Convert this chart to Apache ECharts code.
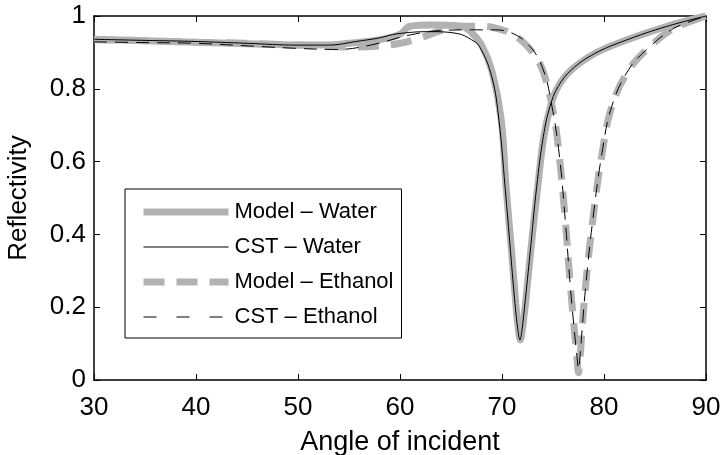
<!DOCTYPE html>
<html>
<head>
<meta charset="utf-8">
<script src="https://cdn.jsdelivr.net/npm/echarts@6/dist/echarts.min.js"></script>
<style>
html, body { margin: 0; padding: 0; background: #fff; }
#chart { width: 724px; height: 455px; }
</style>
</head>
<body>
<div id="chart"></div>
<script>
// angle of incidence (deg) and reflectivity
const modelWaterX = [30, 35, 40, 45, 50, 53, 55, 58, 60, 61, 63, 66, 67, 68, 69, 69.9, 70.4, 70.95, 71.35, 71.6, 71.8, 72.0, 72.3, 72.8, 73.5, 74.1, 74.75, 75.5, 76.8, 79.1, 82.2, 86.1, 90];
const modelWaterY = [0.936, 0.932, 0.928, 0.924, 0.92, 0.92, 0.925, 0.935, 0.95, 0.972, 0.975, 0.972, 0.955, 0.92, 0.85, 0.72, 0.53, 0.35, 0.21, 0.14, 0.11, 0.14, 0.21, 0.35, 0.53, 0.668, 0.751, 0.806, 0.852, 0.897, 0.934, 0.971, 1.0];

const cstWaterX = [30, 35, 40, 45, 50, 53, 55.7, 58, 59.7, 62.9, 65.6, 67, 67.8, 69, 69.7, 70.3, 70.85, 71.27, 71.55, 71.76, 71.97, 72.25, 72.75, 73.4, 74.05, 74.7, 75.5, 76.8, 79.1, 82.2, 86.1, 90];
const cstWaterY = [0.936, 0.933, 0.93, 0.925, 0.92, 0.92, 0.93, 0.94, 0.951, 0.957, 0.952, 0.935, 0.916, 0.833, 0.714, 0.531, 0.348, 0.211, 0.14, 0.11, 0.14, 0.211, 0.348, 0.531, 0.668, 0.751, 0.806, 0.852, 0.897, 0.934, 0.971, 1.0];

const modelEthX = [30, 35, 40, 45, 50, 55, 58, 60, 62, 64, 66, 68, 70, 71, 72, 73, 74, 75, 75.6, 76.2, 76.7, 77.15, 77.35, 77.5, 77.65, 77.8, 78.2, 78.9, 79.8, 80.75, 82.4, 84.5, 86.6, 88, 90];
const modelEthY = [0.935, 0.932, 0.928, 0.925, 0.92, 0.915, 0.918, 0.925, 0.94, 0.96, 0.972, 0.972, 0.962, 0.95, 0.93, 0.9, 0.85, 0.74, 0.62, 0.44, 0.26, 0.12, 0.06, 0.02, 0.06, 0.12, 0.26, 0.44, 0.62, 0.75, 0.85, 0.916, 0.962, 0.98, 1.0];

const cstEthX = [30, 35, 40, 45, 50, 53.8, 57.1, 61, 64, 67, 69, 70.8, 72.75, 74.05, 74.9, 75.6, 76.2, 76.7, 77.15, 77.35, 77.5, 77.65, 77.8, 78.2, 78.9, 79.8, 80.75, 82.4, 84.5, 86.6, 88, 90];
const cstEthY = [0.929, 0.927, 0.925, 0.918, 0.911, 0.908, 0.92, 0.948, 0.96, 0.962, 0.962, 0.955, 0.916, 0.852, 0.751, 0.623, 0.44, 0.256, 0.119, 0.065, 0.03, 0.065, 0.119, 0.256, 0.44, 0.623, 0.751, 0.852, 0.916, 0.962, 0.98, 1.0];

const xTicks = [30, 40, 50, 60, 70, 80, 90];
const yTicks = [0, 0.2, 0.4, 0.6, 0.8, 1];

const seriesNames = ['Model \u2013 Water', 'CST \u2013 Water', 'Model \u2013 Ethanol', 'CST \u2013 Ethanol'];

function pairs(xs, ys) {
    return xs.map(function (x, i) { return [x, ys[i]]; });
}

const FONT = 'Liberation Sans, Arial, Helvetica, sans-serif';
const GRAY = '#b2b2b2';

let chart = echarts.init(document.getElementById('chart'), null, {renderer: 'canvas'});

let axisCommon = {
    axisLine: {show: true, onZero: false, lineStyle: {color: '#000', width: 1.5}},
    axisTick: {show: true, inside: true, length: 6, lineStyle: {color: '#000', width: 1}},
    splitLine: {show: false}
};

chart.setOption({
    animation: false,
    backgroundColor: '#fff',
    grid: {left: 94, right: 18, top: 16, bottom: 75, outerBoundsMode: 'none'},
    legend: {
        orient: 'vertical',
        left: 125,
        top: 189,
        padding: [12, 6, 10, 15],
        itemGap: 13,
        itemWidth: 85,
        itemHeight: 14,
        backgroundColor: '#fff',
        borderColor: '#000',
        borderWidth: 1,
        borderRadius: 0,
        itemStyle: {opacity: 0},
        textStyle: {fontFamily: FONT, fontSize: 22, color: '#000', lineHeight: 22, padding: [0, 2, 0, 1]},
        data: [
            {name: seriesNames[0], lineStyle: {color: GRAY, width: 7, type: 'solid'}},
            {name: seriesNames[1], lineStyle: {color: '#000', width: 1.2, type: 'solid'}},
            {name: seriesNames[2], lineStyle: {color: GRAY, width: 7, type: [21, 12]}},
            {name: seriesNames[3], lineStyle: {color: '#000', width: 1.2, type: [13, 20]}}
        ]
    },
    xAxis: [
        Object.assign({
            type: 'value', min: 30, max: 90, interval: 10, position: 'bottom',
            name: 'Angle of incident', nameLocation: 'middle', nameGap: 49,
            nameTextStyle: {fontFamily: FONT, fontSize: 27, color: '#000'},
            axisLabel: {fontFamily: FONT, fontSize: 26, color: '#000', margin: 15,
                formatter: function (v) { return xTicks.indexOf(v) >= 0 ? String(v) : ''; }}
        }, axisCommon),
        Object.assign({
            type: 'value', min: 30, max: 90, interval: 10, position: 'top',
            axisLabel: {show: false}
        }, axisCommon)
    ],
    yAxis: [
        Object.assign({
            type: 'value', min: 0, max: 1, interval: 0.2, position: 'left',
            name: 'Reflectivity', nameLocation: 'middle', nameGap: 62,
            nameTextStyle: {fontFamily: FONT, fontSize: 26, color: '#000'},
            axisLabel: {fontFamily: FONT, fontSize: 26, color: '#000', margin: 8,
                formatter: function (v) {
                    let t = yTicks.find(function (k) { return Math.abs(k - v) < 1e-9; });
                    return t === undefined ? '' : String(t);
                }}
        }, axisCommon),
        Object.assign({
            type: 'value', min: 0, max: 1, interval: 0.2, position: 'right',
            axisLabel: {show: false}
        }, axisCommon)
    ],
    series: [
        {
            name: seriesNames[0], type: 'line', data: pairs(modelWaterX, modelWaterY),
            symbol: 'none', smooth: 0.4, z: 1,
            lineStyle: {color: GRAY, width: 7, type: 'solid'}, itemStyle: {color: GRAY}
        },
        {
            name: seriesNames[2], type: 'line', data: pairs(modelEthX, modelEthY),
            symbol: 'none', smooth: 0.4, z: 1,
            lineStyle: {color: GRAY, width: 7, type: [21, 12], cap: 'butt'}, itemStyle: {color: GRAY}
        },
        {
            name: seriesNames[1], type: 'line', data: pairs(cstWaterX, cstWaterY),
            symbol: 'none', smooth: 0.4, z: 3,
            lineStyle: {color: '#000', width: 1, type: 'solid'}, itemStyle: {color: '#000'}
        },
        {
            name: seriesNames[3], type: 'line', data: pairs(cstEthX, cstEthY),
            symbol: 'none', smooth: 0.4, z: 3,
            lineStyle: {color: '#000', width: 1, type: [13, 8]}, itemStyle: {color: '#000'}
        }
    ]
});
</script>
</body>
</html>
